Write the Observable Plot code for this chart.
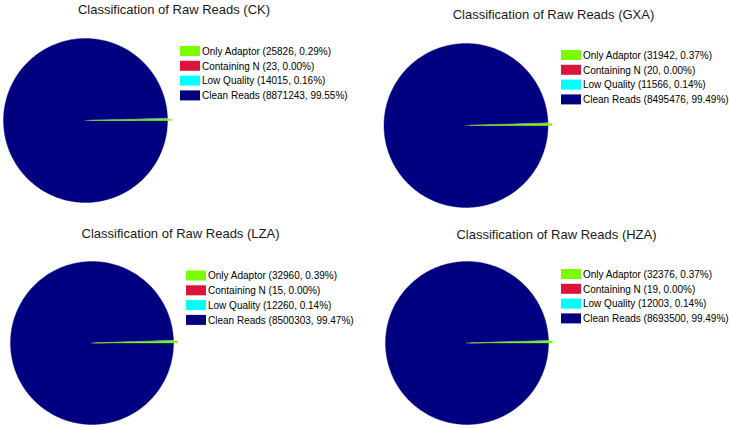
<!DOCTYPE html>
<html>
<head>
<meta charset="utf-8">
<script src="https://cdn.jsdelivr.net/npm/d3@7"></script>
<script src="https://cdn.jsdelivr.net/npm/@observablehq/plot@0.6"></script>
<style>
  html, body { margin: 0; padding: 0; background: #fff; }
  #root { position: relative; width: 729px; height: 428px; overflow: hidden; background: #fff; }
  .panel { position: absolute; }
  .panel svg { display: block; }
</style>
</head>
<body>
<div id="root"></div>
<script>
// ---- data ----
const categories = ["Only Adaptor", "Containing N", "Low Quality", "Clean Reads"];
const colors = ["#7cfc00", "#dc143c", "#00ffff", "#000080"];
const samples = ["CK", "GXA", "LZA", "HZA"];
const countsCK  = [25826, 23, 14015, 8871243];
const countsGXA = [31942, 20, 11566, 8495476];
const countsLZA = [32960, 15, 12260, 8500303];
const countsHZA = [32376, 19, 12003, 8693500];
const pctCK  = ["0.29%", "0.00%", "0.16%", "99.55%"];
const pctGXA = ["0.37%", "0.00%", "0.14%", "99.49%"];
const pctLZA = ["0.39%", "0.00%", "0.14%", "99.47%"];
const pctHZA = ["0.37%", "0.00%", "0.14%", "99.49%"];

const counts = {CK: countsCK, GXA: countsGXA, LZA: countsLZA, HZA: countsHZA};
const pcts = {CK: pctCK, GXA: pctGXA, LZA: pctLZA, HZA: pctHZA};

// ---- layout (positions/styles) ----
const layout = {
  CK:  {left: 0,   top: 0,   w: 364, h: 214, cx: 85,    cy: 120,   r: 82,   tx: 173.5, ty: 9.5, lx: 180, ly: 46},
  GXA: {left: 364, top: 0,   w: 365, h: 214, cx: 101.5, cy: 125,   r: 82,   tx: 189,   ty: 14,  lx: 197, ly: 50},
  LZA: {left: 0,   top: 214, w: 364, h: 214, cx: 91.5,  cy: 128.5, r: 81.5, tx: 180,   ty: 19,  lx: 186, ly: 56.5},
  HZA: {left: 364, top: 214, w: 365, h: 214, cx: 102.5, cy: 128.5, r: 81.5, tx: 192,   ty: 20,  lx: 197, ly: 55}
};
const font = "Liberation Sans, Arial, Helvetica, sans-serif";
const explode = 4;
const rowStep = 14.8, swW = 20, swH = 10;

const root = document.getElementById("root");

for (const s of samples) {
  const L = layout[s];
  const vals = counts[s];
  const total = d3.sum(vals);
  // slices counterclockwise from 3 o'clock
  const slices = [];
  let acc = 0;
  categories.forEach((c, i) => {
    const a0 = acc / total * 2 * Math.PI;
    acc += vals[i];
    const a1 = acc / total * 2 * Math.PI;
    slices.push({category: c, a0, a1, i});
  });
  const pts = [];
  // draw largest (clean) first, so thin slices stay on top
  for (const sl of slices.slice().reverse()) {
    if (sl.a1 - sl.a0 <= 0) continue;
    const mid = (sl.a0 + sl.a1) / 2;
    const off = sl.i === 0 ? explode : 0;
    const ox = L.cx + off * Math.cos(mid), oy = L.cy - off * Math.sin(mid);
    pts.push({category: sl.category, x: ox, y: oy});
    const n = Math.max(2, Math.ceil((sl.a1 - sl.a0) / (Math.PI / 180)));
    for (let k = 0; k <= n; k++) {
      const a = sl.a0 + (sl.a1 - sl.a0) * k / n;
      pts.push({category: sl.category, x: ox + L.r * Math.cos(a), y: oy - L.r * Math.sin(a)});
    }
    pts.push({category: sl.category, x: ox, y: oy});
  }
  const legend = categories.map((c, i) => ({
    category: c,
    label: `${c} (${vals[i]}, ${pcts[s][i]})`,
    x1: L.lx, x2: L.lx + swW,
    y1: L.ly + i * rowStep, y2: L.ly + i * rowStep + swH,
    ym: L.ly + i * rowStep + swH / 2
  }));

  const chart = Plot.plot({
    width: L.w, height: L.h, margin: 0,
    x: {type: "linear", domain: [0, L.w], range: [0, L.w], axis: null},
    y: {type: "linear", domain: [0, L.h], range: [0, L.h], axis: null},
    color: {domain: categories, range: colors},
    style: {background: "transparent", fontFamily: font},
    marks: [
      Plot.line(pts, {x: "x", y: "y", z: "category", fill: "category", stroke: "category", strokeWidth: 0.4, curve: "linear"}),
      Plot.text([`Classification of Raw Reads (${s})`], {x: () => L.tx, y: () => L.ty, text: d => d, fontSize: 13, fill: "#1a1a1a", textAnchor: "middle", lineAnchor: "middle", fontFamily: font}),
      Plot.rect(legend, {x1: "x1", x2: "x2", y1: "y1", y2: "y2", fill: "category"}),
      Plot.text(legend, {x: d => d.x2 + 1.5, y: "ym", text: "label", fontSize: 10, fill: "#000", textAnchor: "start", lineAnchor: "middle", fontFamily: font})
    ]
  });
  const div = document.createElement("div");
  div.className = "panel";
  div.style.left = L.left + "px";
  div.style.top = L.top + "px";
  div.appendChild(chart);
  root.appendChild(div);
}
</script>
</body>
</html>
